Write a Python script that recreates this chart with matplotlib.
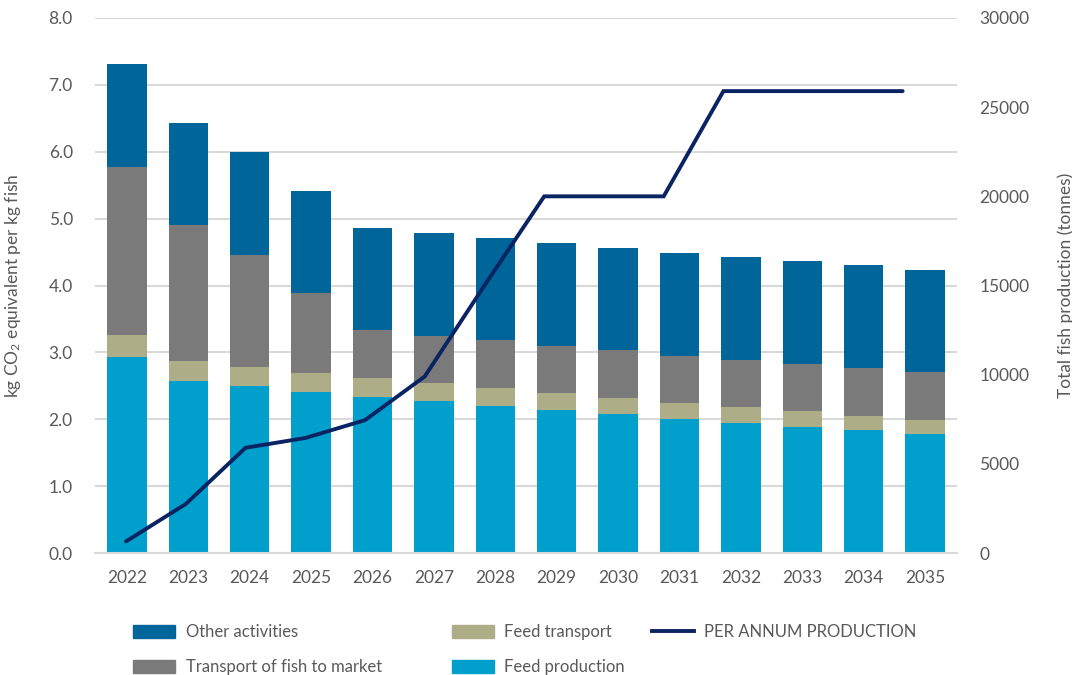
import matplotlib
matplotlib.use("Agg")
import matplotlib.pyplot as plt
from matplotlib.patches import Patch
from matplotlib.lines import Line2D
import numpy as np

years = ["2022", "2023", "2024", "2025", "2026", "2027", "2028",
         "2029", "2030", "2031", "2032", "2033", "2034", "2035"]
feed_production = [2.93, 2.57, 2.50, 2.41, 2.34, 2.27, 2.20, 2.14, 2.08, 2.01, 1.95, 1.89, 1.84, 1.78]
feed_transport = [0.33, 0.30, 0.28, 0.28, 0.28, 0.27, 0.27, 0.25, 0.24, 0.23, 0.23, 0.23, 0.21, 0.21]
transport_fish = [2.51, 2.03, 1.67, 1.20, 0.71, 0.71, 0.71, 0.71, 0.71, 0.71, 0.71, 0.71, 0.72, 0.72]
other_activities = [1.54, 1.53, 1.54, 1.53, 1.53, 1.53, 1.53, 1.54, 1.53, 1.54, 1.54, 1.53, 1.53, 1.52]
production = [650, 2750, 5900, 6450, 7450, 9900, 15000, 20000, 20000, 20000, 25900, 25900, 25900, 25900]

left_ticks = [0, 1, 2, 3, 4, 5, 6, 7, 8]
right_ticks = [0, 5000, 10000, 15000, 20000, 25000, 30000]

C_OTHER = "#006699"
C_TFISH = "#7a7a7a"
C_FTRANS = "#adad88"
C_FPROD = "#009fcc"
C_LINE = "#0a2463"
C_TEXT = "#595959"
C_GRID = "#d9d9d9"

plt.rcParams['font.family'] = ['Lato', 'DejaVu Sans']
plt.rcParams['mathtext.fontset'] = 'custom'
plt.rcParams['mathtext.rm'] = 'Lato'
plt.rcParams['mathtext.it'] = 'Lato'

fig = plt.figure(figsize=(10.72, 6.75), dpi=100)
rect = [95/1072, 1 - 553/675, (957-95)/1072, (553-18)/675]
ax = fig.add_axes(rect)

x = np.arange(len(years))
w = 0.64
b1 = np.array(feed_production)
b2 = b1 + np.array(feed_transport)
b3 = b2 + np.array(transport_fish)
ax.bar(x, feed_production, w, color=C_FPROD, zorder=2)
ax.bar(x, feed_transport, w, bottom=b1, color=C_FTRANS, zorder=2)
ax.bar(x, transport_fish, w, bottom=b2, color=C_TFISH, zorder=2)
ax.bar(x, other_activities, w, bottom=b3, color=C_OTHER, zorder=2)

ax.set_xlim(-0.52, len(years) - 0.48)
ax.set_ylim(0, 8)
ax.set_yticks(left_ticks)
ax.set_yticklabels([f"{v:.1f}" for v in left_ticks])
ax.set_xticks(x)
ax.set_xticklabels(years)
ax.yaxis.grid(True, color=C_GRID, linewidth=1.5, zorder=0)
ax.set_axisbelow(True)
for s in ["top", "right", "left"]:
    ax.spines[s].set_visible(False)
ax.spines["bottom"].set_color(C_GRID)
ax.spines["bottom"].set_linewidth(1.5)
ax.tick_params(axis='both', length=0, labelsize=12.5, colors=C_TEXT)
ax.tick_params(axis='x', pad=12)
ax.tick_params(axis='y', pad=16)
ax.set_ylabel(r"kg CO$_2$ equivalent per kg fish", fontsize=12.5, color=C_TEXT)
ax.yaxis.set_label_coords(-0.083, 0.5)

# secondary axes: the production line sits on its own (slightly narrower) category scale
ax2 = fig.add_axes(rect, label="secondary")
ax2.patch.set_visible(False)
ax2.plot(x, production, color=C_LINE, linewidth=2.8, solid_capstyle='round',
         solid_joinstyle='miter', zorder=3)
ax2.set_xlim(-0.52, 13.91)
ax2.xaxis.set_visible(False)
ax2.set_ylim(0, 30000)
ax2.yaxis.tick_right()
ax2.yaxis.set_label_position('right')
ax2.set_yticks(right_ticks)
ax2.set_yticklabels([str(v) for v in right_ticks])
for s in ["top", "right", "left", "bottom"]:
    ax2.spines[s].set_visible(False)
ax2.tick_params(axis='y', length=0, labelsize=12.5, colors=C_TEXT, pad=16)
ax2.set_ylabel("Total fish production (tonnes)", fontsize=12.5, color=C_TEXT,
               rotation=90)
ax2.yaxis.set_label_coords(1.116, 0.5)

leg_kw = dict(frameon=False, fontsize=12, labelcolor=C_TEXT, handlelength=2.5,
              handleheight=0.8, handletextpad=0.65, labelspacing=1.15,
              borderpad=0, borderaxespad=0, loc='upper left')
fig.legend(handles=[Patch(color=C_OTHER), Patch(color=C_TFISH)],
           labels=["Other activities", "Transport of fish to market"],
           bbox_to_anchor=(133/1072, 1 - 624/675), **leg_kw)
fig.legend(handles=[Patch(color=C_FTRANS), Patch(color=C_FPROD)],
           labels=["Feed transport", "Feed production"],
           bbox_to_anchor=(452/1072, 1 - 624/675), **leg_kw)
fig.legend(handles=[Line2D([], [], color=C_LINE, linewidth=2.8)],
           labels=["PER ANNUM PRODUCTION"],
           bbox_to_anchor=(652/1072, 1 - 624/675), **leg_kw)

fig.savefig("out.png", dpi=100)
